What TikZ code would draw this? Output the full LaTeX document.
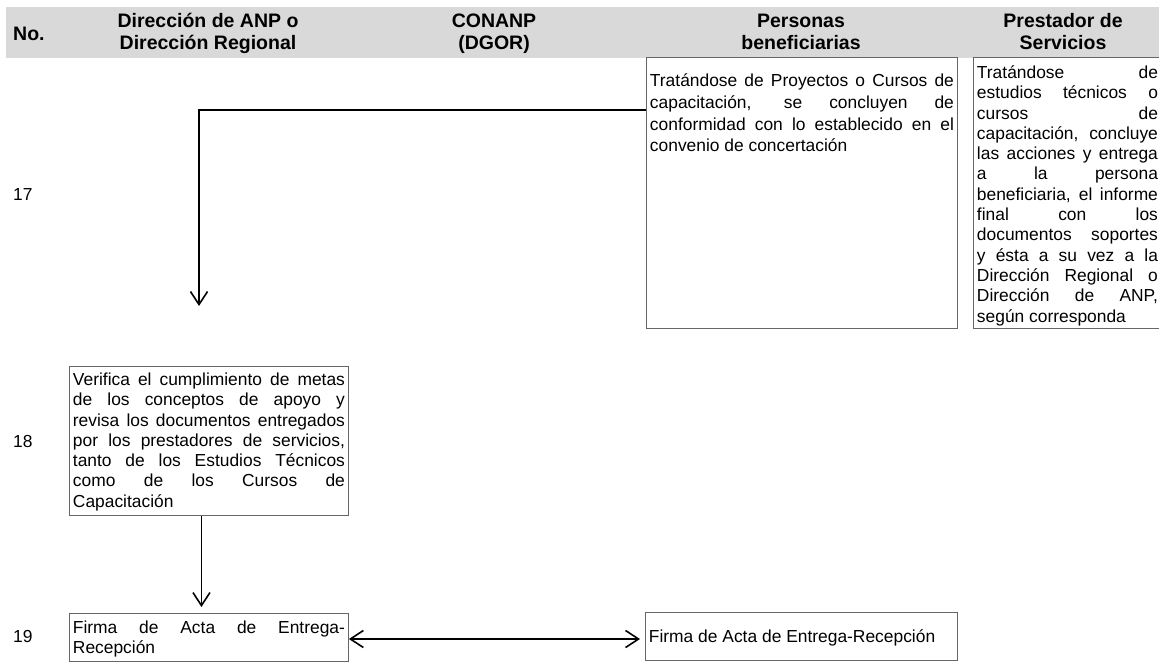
\documentclass[tikz,border=0pt]{standalone}
\usepackage{fontspec}
\setmainfont{Liberation Sans}
\usetikzlibrary{arrows.meta,positioning}
\tikzset
{
    header/.style   = {font=\fontsize{19.5}{22}\selectfont\bfseries, align=center, inner sep=0pt, anchor=base},
    rownum/.style   = {font=\fontsize{17.4}{20.3}\selectfont, inner sep=0pt, anchor=base west},
    stepbox/.style  = {rectangle, draw=black!60, line width=0.9pt, inner xsep=3.5pt, inner ysep=0pt, align=justify, anchor=north west, font=\fontsize{17.4}{20.3}\selectfont},
    arrow/.style    = {line width=1.6pt, -{Straight Barb[length=13pt,width=17pt]}},
    dblarrow/.style = {line width=1.6pt, {Straight Barb[length=13pt,width=17pt]}-{Straight Barb[length=13pt,width=17pt]}}
}

\begin{document}
\begin{tikzpicture}[x=1pt, y=-1pt]
\useasboundingbox (0,0) rectangle (1159,662);
\fill[black!15] (6,7) rectangle (1159,58);
\node(hno) [header, anchor=base west] at (13,40) {No.};
\node(hdir) [header] at (208,49) {Dirección de ANP o\\Dirección Regional};
\node(hcon) [header] at (494,49) {CONANP\\(DGOR)};
\node(hben) [header] at (801,49) {Personas\\beneficiarias};
\node(hpre) [header] at (1063,49) {Prestador de\\Servicios};
\node(n17) [rownum] at (13,200) {17};
\node(n18) [rownum] at (13,447) {18};
\node(n19) [rownum] at (13,642) {19};
\node(ben17) [stepbox, text width=304pt, text height=29pt, text depth=242pt, font=\fontsize{17.4}{21.8}\selectfont] at (646,57)
  {Tratándose de Proyectos o Cursos de\linebreak capacitación, se concluyen de\linebreak conformidad con lo establecido en el\linebreak convenio de concertación};
\node(pre17) [stepbox, text width=181pt, text height=21pt, text depth=250pt] at (973,57)
  {Tratándose de\linebreak estudios técnicos o\linebreak cursos de\linebreak capacitación, concluye\linebreak las acciones y entrega\linebreak a la persona\linebreak beneficiaria, el informe\linebreak final con los\linebreak documentos soportes\linebreak y ésta a su vez a la\linebreak Dirección Regional o\linebreak Dirección de ANP,\linebreak según corresponda};
\node(dir18) [stepbox, text width=272pt, text height=19pt, text depth=130pt] at (69,366)
  {Verifica el cumplimiento de metas\linebreak de los conceptos de apoyo y\linebreak revisa los documentos entregados\linebreak por los prestadores de servicios,\linebreak tanto de los Estudios Técnicos\linebreak como de los Cursos de\linebreak Capacitación};
\node(dir19) [stepbox, text width=272pt, text height=20pt, text depth=28pt] at (69,613)
  {Firma de Acta de Entrega-\linebreak Recepción};
\node(ben19) [stepbox, text width=305pt, text height=30pt, text depth=18pt] at (645,612)
  {Firma de Acta de Entrega-Recepción};
\coordinate(end17) at (199,306);
\draw[arrow] ([yshift=-53pt]ben17.north west) -| (end17);
\draw[arrow, shorten >=6pt] ([xshift=-7.5pt]dir18.south) -- ([xshift=-7.5pt]dir19.north);
\draw[dblarrow, shorten >=5pt] (dir19.east |- 0,639) -- (ben19.west |- 0,639);
\end{tikzpicture}
\end{document}
